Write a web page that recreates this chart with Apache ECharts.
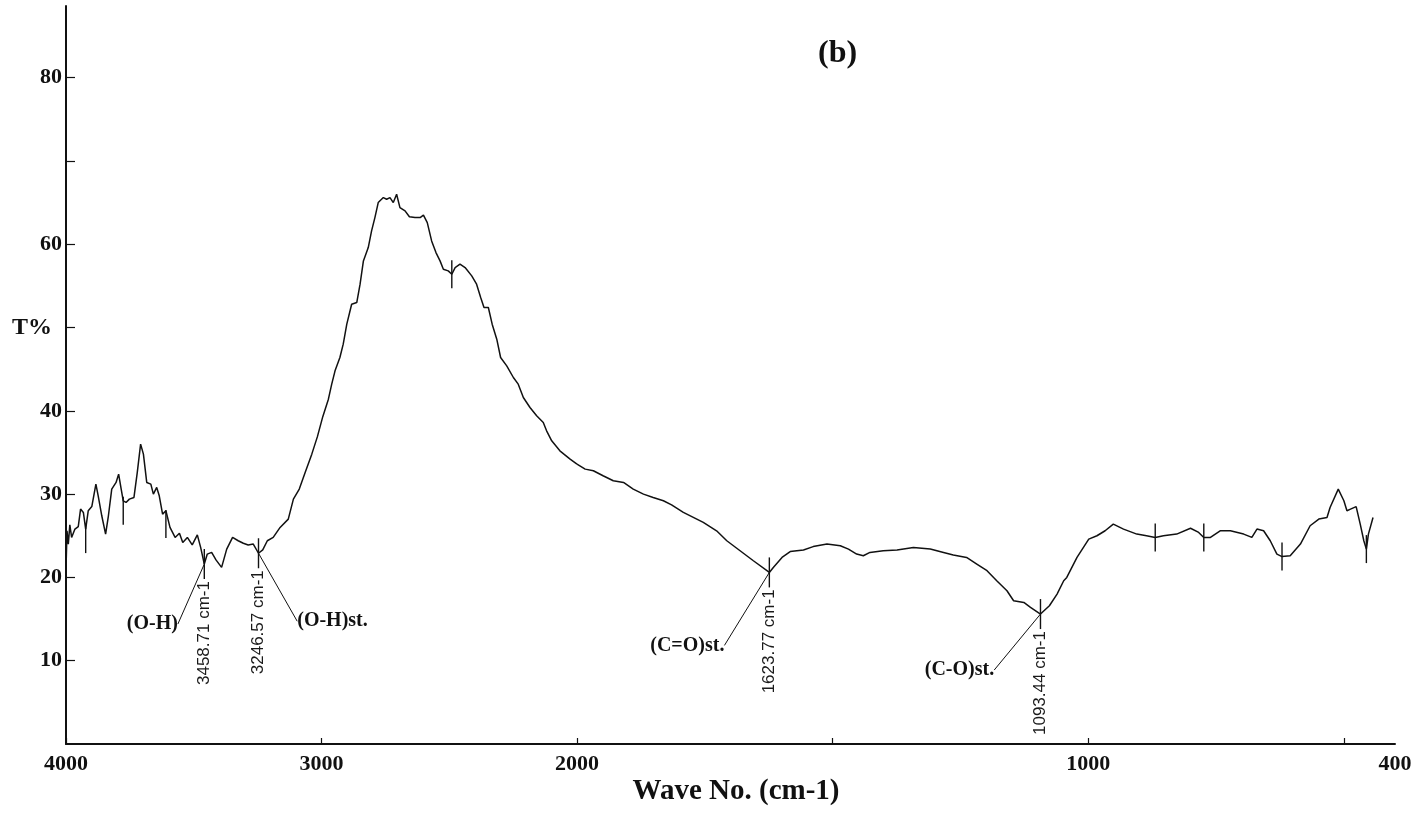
<!DOCTYPE html>
<html>
<head>
<meta charset="utf-8">
<title>FTIR spectrum (b)</title>
<script src="https://cdn.jsdelivr.net/npm/echarts@6/dist/echarts.min.js"></script>
<style>
  html, body { margin: 0; padding: 0; background: #ffffff; }
  #chart { width: 1421px; height: 824px; }
</style>
</head>
<body>
<div id="chart"></div>
<script>
// FTIR transmittance trace, wavenumber (cm-1) against T%
const waveNumbers = [
  4000, 3996, 3991, 3985, 3978, 3965, 3952, 3943, 3932, 3923,
  3913, 3899, 3883, 3874, 3860, 3845, 3834, 3821, 3804, 3794,
  3784, 3776, 3765, 3752, 3734, 3721, 3708, 3697, 3684, 3668,
  3658, 3645, 3635, 3622, 3609, 3593, 3573, 3556, 3543, 3525,
  3506, 3486, 3473, 3458.71, 3447, 3430, 3413, 3391, 3371, 3348,
  3326, 3306, 3287, 3267, 3246.57, 3230, 3212, 3189, 3162, 3130,
  3110, 3087, 3064, 3038, 3016, 2995, 2973, 2960, 2947, 2928,
  2915, 2901, 2882, 2862, 2849, 2836, 2817, 2804, 2791, 2778,
  2758, 2745, 2732, 2719, 2706, 2693, 2673, 2656, 2634, 2614,
  2601, 2586, 2569, 2552, 2536, 2523, 2504, 2490, 2477, 2458,
  2438, 2412, 2393, 2377, 2364, 2347, 2332, 2314, 2299, 2275,
  2249, 2230, 2210, 2184, 2158, 2132, 2119, 2099, 2067, 2027,
  2000, 1984, 1968, 1949, 1929, 1909, 1890, 1870, 1851, 1831,
  1815, 1792, 1753, 1727, 1707, 1681, 1655, 1623.77, 1616, 1599,
  1583, 1557, 1538, 1511, 1485, 1469, 1453, 1440, 1427, 1401,
  1374, 1342, 1309, 1283, 1264, 1238, 1218, 1198, 1179, 1159,
  1146, 1126, 1113, 1093.44, 1076, 1061, 1048, 1042, 1022, 999,
  983, 967, 951, 931, 905, 886, 869, 853, 827, 800,
  784, 774, 761, 742, 722, 696, 680, 670, 657, 644,
  631, 621, 605, 585, 566, 549, 533, 527, 511, 500,
  494, 487, 476, 468, 461, 456, 452, 443
];
const transmittance = [
  21.0, 25.6, 24.0, 26.3, 24.8, 25.8, 26.1, 28.2, 27.8, 25.8,
  28.0, 28.5, 31.2, 29.8, 27.4, 25.2, 27.4, 30.6, 31.4, 32.4,
  30.6, 29.2, 29.0, 29.4, 29.6, 32.6, 36.0, 34.8, 31.4, 31.2,
  30.0, 30.8, 29.8, 27.6, 28.0, 26.0, 24.8, 25.3, 24.2, 24.8,
  23.9, 25.1, 23.6, 21.6, 22.8, 23.0, 22.1, 21.2, 23.4, 24.8,
  24.4, 24.1, 23.9, 24.0, 22.9, 23.3, 24.4, 24.8, 26.0, 27.0,
  29.4, 30.6, 32.6, 34.8, 36.9, 39.3, 41.4, 43.2, 44.8, 46.4,
  48.0, 50.4, 52.8, 53.0, 55.2, 58.0, 59.6, 61.6, 63.2, 65.0,
  65.6, 65.4, 65.6, 65.0, 66.0, 64.4, 64.0, 63.3, 63.2, 63.2,
  63.5, 62.6, 60.4, 59.0, 58.0, 57.0, 56.8, 56.4, 57.2, 57.6,
  57.2, 56.2, 55.2, 53.6, 52.4, 52.4, 50.4, 48.6, 46.4, 45.4,
  44.0, 43.2, 41.6, 40.4, 39.4, 38.6, 37.6, 36.4, 35.2, 34.2,
  33.6, 33.0, 32.8, 32.2, 31.6, 31.4, 30.6, 30.0, 29.6, 29.2,
  28.7, 27.8, 26.6, 25.6, 24.4, 23.2, 22.0, 20.6, 21.2, 22.4,
  23.1, 23.3, 23.7, 24.0, 23.8, 23.4, 22.8, 22.6, 23.0, 23.2,
  23.3, 23.6, 23.4, 23.0, 22.7, 22.4, 21.6, 20.8, 19.6, 18.4,
  17.2, 17.0, 16.4, 15.6, 16.6, 18.0, 19.6, 20.0, 22.4, 24.6,
  25.0, 25.6, 26.4, 25.8, 25.2, 25.0, 24.8, 25.0, 25.2, 25.9,
  25.4, 24.8, 24.8, 25.6, 25.6, 25.2, 24.8, 25.8, 25.6, 24.4,
  22.8, 22.5, 22.6, 24.0, 26.2, 27.0, 27.2, 28.4, 30.6, 29.2,
  28.0, 28.2, 28.5, 26.4, 24.4, 23.4, 25.2, 27.2
];

// unlabelled peak-pick ticks
const pickWaves = [3923, 3776, 3609, 2490, 869, 774, 621, 456];
const pickValues = [24.6, 28.0, 26.4, 56.4, 24.8, 24.8, 22.5, 23.4];

// assigned absorption bands
const bandWaves = [3458.71, 3246.57, 1623.77, 1093.44];
const bandValues = [21.6, 22.9, 20.6, 15.6];
const bandNames = ['(O-H)', '(O-H)st.', '(C=O)st.', '(C-O)st.'];

// axis ticks: the scale doubles below 2000 cm-1
const highRangeTicks = [4000, 3000, 2000];
const lowRangeTicks = [1500, 1000, 500];
const lowRangeLabels = [1000, 400];
const yTicks = [10, 20, 30, 40, 50, 60, 70, 80];
const yLabels = [10, 20, 30, 40, 60, 80];
const yTitle = 'T%';
const yTitleAt = 50;   // the y title stands in for the 50 tick label

const SPLIT = 2000;
const INK = '#111111';
const SERIF = '"Liberation Serif", "Times New Roman", serif';
const SANS = '"Liberation Sans", Arial, sans-serif';

// where each band name sits relative to its peak (pixels)
const bandNameShift = {
  '(O-H)': [-52, 60],
  '(O-H)st.': [74, 68],
  '(C=O)st.': [-82, 73],
  '(C-O)st.': [-81, 56]
};

const trace = waveNumbers.map((w, i) => [w, transmittance[i]]);
const inGrid = (g, w) => (g === 0 ? w >= SPLIT : w <= SPLIT);

function buildSeries(g) {
  const lineData = trace.filter(p => inGrid(g, p[0]));
  const picks = [];
  pickWaves.forEach((w, i) => {
    if (inGrid(g, w)) picks.push({ value: [w, pickValues[i]], symbolSize: [1.4, 28] });
  });
  bandWaves.forEach((w, i) => {
    if (inGrid(g, w)) picks.push({
      value: [w, bandValues[i]],
      symbolSize: [1.4, 30],
      label: {
        show: true,
        position: 'bottom',
        distance: 2,
        rotate: 90,
        align: 'right',
        verticalAlign: 'middle',
        formatter: p => p.value[0].toFixed(2) + ' cm-1',
        fontFamily: SANS,
        fontSize: 17,
        color: '#1a1a1a',
        opacity: 1
      }
    });
  });
  const names = [];
  bandWaves.forEach((w, i) => {
    if (inGrid(g, w)) names.push({ name: bandNames[i], value: [w, bandValues[i]] });
  });
  return [
    {
      type: 'line',
      xAxisIndex: g, yAxisIndex: g,
      data: lineData,
      showSymbol: false,
      symbol: 'none',
      lineStyle: { color: INK, width: 1.5 },
      silent: true,
      z: 3
    },
    {
      type: 'scatter',
      xAxisIndex: g, yAxisIndex: g,
      data: picks,
      symbol: 'rect',
      itemStyle: { color: INK, opacity: 1 },
      silent: true,
      z: 4
    },
    {
      type: 'scatter',
      xAxisIndex: g, yAxisIndex: g,
      data: names,
      symbolSize: 1,
      itemStyle: { color: 'rgba(0,0,0,0)', opacity: 1 },
      label: {
        show: true,
        position: 'inside',
        formatter: p => p.name,
        fontFamily: SERIF,
        fontWeight: 'bold',
        fontSize: 20,
        color: INK,
        opacity: 1
      },
      labelLayout: p => {
        const s = bandNameShift[p.text] || [0, 0];
        return { dx: s[0], dy: s[1] };
      },
      labelLine: { show: true, lineStyle: { color: INK, width: 1, opacity: 1 } },
      silent: true,
      z: 4
    }
  ];
}

const tickLabelStyle = {
  fontFamily: SERIF, fontWeight: 'bold', fontSize: 22, color: INK,
  formatter: v => String(v)
};

const chart = echarts.init(document.getElementById('chart'), null, { renderer: 'canvas' });
chart.setOption({
  animation: false,
  backgroundColor: '#ffffff',
  title: {
    text: '(b)',
    left: 818, top: 38, padding: 0,
    textStyle: { fontFamily: SERIF, fontWeight: 'bold', fontSize: 32, color: INK }
  },
  grid: [
    { left: 66, top: 6, width: 511, height: 738, outerBoundsMode: 'none' },
    { left: 577, top: 6, width: 818, height: 738, outerBoundsMode: 'none' }
  ],
  xAxis: [
    {
      gridIndex: 0, type: 'value', inverse: true,
      min: highRangeTicks[2], max: highRangeTicks[0], interval: 1000,
      axisLine: { show: true, lineStyle: { color: INK, width: 2 } },
      axisTick: { show: true, inside: true, length: 6, lineStyle: { color: INK, width: 1.2 } },
      axisLabel: Object.assign({ margin: 9, showMinLabel: true, showMaxLabel: true }, tickLabelStyle),
      splitLine: { show: false }
    },
    {
      gridIndex: 1, type: 'value', inverse: true,
      min: 400, max: SPLIT,
      axisLine: { show: true, lineStyle: { color: INK, width: 2 } },
      axisTick: { show: true, inside: true, length: 6, customValues: lowRangeTicks, lineStyle: { color: INK, width: 1.2 } },
      axisLabel: Object.assign({ margin: 9, customValues: lowRangeLabels }, tickLabelStyle),
      splitLine: { show: false },
      name: 'Wave No. (cm-1)',
      nameLocation: 'middle',
      nameGap: 33,
      nameMoveOverlap: false,
      nameTextStyle: {
        fontFamily: SERIF, fontWeight: 'bold', fontSize: 29, color: INK,
        align: 'center', padding: [0, 500, 0, 0]
      }
    }
  ],
  yAxis: [
    {
      gridIndex: 0, type: 'value', min: 0, max: 88.6, interval: 10,
      axisLine: { show: true, lineStyle: { color: INK, width: 2 } },
      axisTick: { show: true, inside: true, length: 9, customValues: yTicks, lineStyle: { color: INK, width: 1.2 } },
      axisLabel: Object.assign({ margin: 4, customValues: yLabels }, tickLabelStyle),
      splitLine: { show: false }
    },
    {
      gridIndex: 1, type: 'value', min: 0, max: 88.6, show: false
    }
  ],
  series: buildSeries(0).concat(buildSeries(1))
});

// y-axis title, placed on the scale at the 50 % tick
const titleY = chart.convertToPixel({ yAxisIndex: 0 }, yTitleAt);
chart.setOption({
  graphic: [{
    type: 'text',
    x: 52,
    y: titleY,
    silent: true,
    style: {
      text: yTitle,
      align: 'right',
      verticalAlign: 'middle',
      fontFamily: SERIF,
      fontWeight: 'bold',
      fontSize: 24,
      fill: INK
    }
  }]
});
</script>
</body>
</html>
